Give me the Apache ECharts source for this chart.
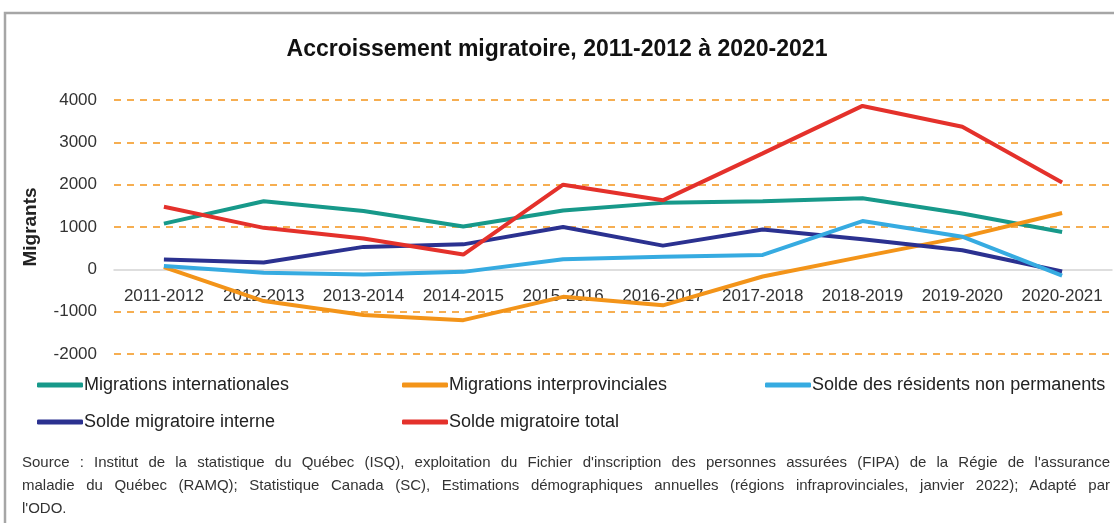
<!DOCTYPE html>
<html>
<head>
<meta charset="utf-8">
<title>Accroissement migratoire</title>
<script src="https://cdn.jsdelivr.net/npm/echarts@6/dist/echarts.min.js"></script>
<style>
  html, body { margin: 0; padding: 0; background: #fff; }
  .wrap { position: relative; width: 1114px; height: 523px; overflow: hidden; }
  #chart { width: 1114px; height: 523px; }
  /* note de source, justifiée comme dans l'original */
  .source {
    position: absolute; left: 22px; top: 450px; width: 1088px;
    font: 15px "Liberation Sans", sans-serif; color: #333; line-height: 23px;
  }
  .source .j { text-align: justify; text-align-last: justify; }
</style>
</head>
<body>
<div class="wrap">
  <div id="chart"></div>
  <div class="source">
    <div class="j">Source : Institut de la statistique du Québec (ISQ), exploitation du Fichier d'inscription des personnes assurées (FIPA) de la Régie de l'assurance</div>
    <div class="j">maladie du Québec (RAMQ); Statistique Canada (SC), Estimations démographiques annuelles (régions infraprovinciales, janvier 2022); Adapté par</div>
    <div>l'ODO.</div>
  </div>
</div>
<script>
// données
const categories = ["2011-2012", "2012-2013", "2013-2014", "2014-2015", "2015-2016",
  "2016-2017", "2017-2018", "2018-2019", "2019-2020", "2020-2021"];
const internationales = [1080, 1610, 1380, 1010, 1390, 1570, 1610, 1680, 1320, 880];
const interprovinciales = [50, -750, -1080, -1200, -650, -850, -170, 300, 760, 1330];
const nonPermanents = [80, -80, -120, -60, 240, 300, 340, 1140, 770, -150];
const interne = [230, 160, 530, 590, 1000, 560, 940, 710, 450, -50];
const total = [1480, 980, 730, 350, 2000, 1630, 2740, 3860, 3370, 2050];
const yTicks = [-2000, -1000, 0, 1000, 2000, 3000, 4000];

const FONT = '"Liberation Sans", sans-serif';
const names = ["Migrations internationales", "Migrations interprovinciales",
  "Solde des résidents non permanents", "Solde migratoire interne", "Solde migratoire total"];
const colors = ["#17998a", "#f39419", "#36abe1", "#2b3190", "#e4312b"];

const chart = echarts.init(document.getElementById("chart"));

// une légende par case pour garder les colonnes
const legendPos = [[37, 376], [402, 376], [765, 376], [37, 413], [402, 413]];
const legends = names.map((n, i) => ({
  data: [n],
  left: legendPos[i][0],
  top: legendPos[i][1],
  icon: "roundRect",
  itemWidth: 46,
  itemHeight: 5,
  itemGap: 0,
  padding: 0,
  textStyle: { fontFamily: FONT, fontSize: 18, color: "#222", padding: [0, 0, 0, -4] },
}));

// grille: tirets orange, ligne du zéro grise
const splitColors = yTicks.map((v) => (v === 0 ? "rgba(0,0,0,0)" : "#f39419"));

const option = {
  color: colors,
  animation: false,
  title: {
    text: "Accroissement migratoire, 2011-2012 à 2020-2021",
    left: "center",
    top: 33,
    textStyle: { fontFamily: FONT, fontSize: 23, fontWeight: "bold", color: "#111" },
  },
  legend: legends,
  grid: { left: 114, right: 2, top: 100, height: 254 },
  xAxis: {
    type: "category",
    data: categories,
    boundaryGap: true,
    offset: -84, // axe remonté au niveau du zéro
    axisLine: { onZero: false, lineStyle: { color: "#d4d4d4", width: 1.5 } },
    axisTick: { show: false },
    axisLabel: { margin: 18, fontFamily: FONT, fontSize: 17, color: "#333", interval: 0 },
  },
  yAxis: {
    type: "value",
    min: -2000,
    max: 4000,
    interval: 1000,
    name: "Migrants",
    nameLocation: "middle",
    nameGap: 74,
    nameTextStyle: { fontFamily: FONT, fontSize: 19, fontWeight: "bold", color: "#222" },
    axisLine: { show: false },
    axisTick: { show: false },
    axisLabel: {
      margin: 17, fontFamily: FONT, fontSize: 17, color: "#333",
      formatter: (v) => String(v),
    },
    splitLine: { lineStyle: { color: splitColors, type: [7, 6], width: 1.5 } },
  },
  graphic: [
    {
      type: "rect",
      shape: { x: 5, y: 13, width: 1130, height: 540 },
      style: { fill: "none", stroke: "#a6a6a6", lineWidth: 2.5 },
      silent: true,
    },
  ],
  series: [
    { name: names[0], type: "line", data: internationales, z: 2 },
    { name: names[1], type: "line", data: interprovinciales, z: 3 },
    { name: names[2], type: "line", data: nonPermanents, z: 5 },
    { name: names[3], type: "line", data: interne, z: 4 },
    { name: names[4], type: "line", data: total, z: 6 },
  ].map((s) => Object.assign(s, {
    symbol: "none",
    lineStyle: { width: 4 },
  })),
};

chart.setOption(option);
</script>
</body>
</html>
